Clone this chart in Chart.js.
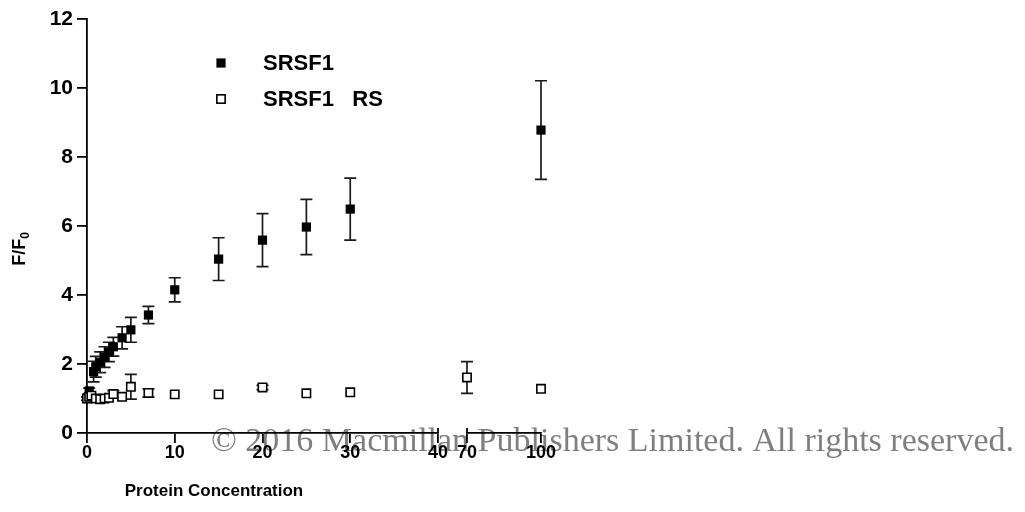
<!DOCTYPE html>
<html>
<head>
<meta charset="utf-8">
<script src="https://cdn.jsdelivr.net/npm/chart.js@4.4.1/dist/chart.umd.min.js"></script>
<style>
  html, body { margin: 0; padding: 0; background: #ffffff; }
  #wrap { width: 1025px; height: 512px; position: relative; }
</style>
</head>
<body>
<div id="wrap"><canvas id="chart" width="1025" height="512"></canvas></div>
<script>
// Protein titration: F/F0 against protein concentration
const concSRSF1  = [0, 0.25, 0.75, 1, 1.5, 2, 2.5, 3, 4, 5, 7, 10, 15, 20, 25, 30, 100];
const ratioSRSF1 = [1.0, 1.22, 1.78, 1.92, 2.05, 2.2, 2.35, 2.5, 2.76, 2.99, 3.42, 4.15, 5.04, 5.59, 5.97, 6.49, 8.78];
const errSRSF1   = [0.05, 0.08, 0.3, 0.3, 0.3, 0.3, 0.28, 0.27, 0.32, 0.36, 0.25, 0.35, 0.62, 0.77, 0.8, 0.9, 1.43];

const concRS  = [0, 0.25, 0.5, 1, 1.5, 2, 2.5, 3, 4, 5, 7, 10, 15, 20, 25, 30, 70, 100];
const ratioRS = [1.0, 1.05, 1.08, 1.0, 0.98, 1.0, 1.02, 1.13, 1.05, 1.34, 1.16, 1.12, 1.12, 1.32, 1.15, 1.18, 1.61, 1.28];
const errRS   = [0, 0, 0, 0.03, 0, 0.04, 0, 0.1, 0, 0.36, 0.12, 0, 0, 0.06, 0, 0, 0.46, 0];

const seriesNames = ['SRSF1', 'SRSF1   RS'];
const lowTicks  = [0, 10, 20, 30, 40];
const highTicks = [70, 100];
const yTicks    = [0, 2, 4, 6, 8, 10, 12];
const lowRange  = [0, 40];
const highRange = [70, 100];
const yRange    = [0, 12];

const AXIS_FONT = '"Liberation Sans", Arial, Helvetica, sans-serif';

// split a series into the part on the lower axis segment and the part on the upper one
function segment(xs, ys, es, lo, hi) {
  const pts = [], errs = [];
  xs.forEach((x, i) => {
    if (x >= lo && x <= hi) { pts.push({ x: x, y: ys[i] }); errs.push(es[i]); }
  });
  return { pts, errs };
}

const filledStyle = {
  pointStyle: 'rect', pointRadius: 6.5, pointHoverRadius: 6.5,
  backgroundColor: '#000000', borderColor: '#000000', borderWidth: 0
};
const openStyle = {
  pointStyle: 'rect', pointRadius: 5.9, pointHoverRadius: 5.9,
  backgroundColor: '#ffffff', borderColor: '#000000', borderWidth: 1.6
};

function makeSet(label, xs, ys, es, range, axisId, style) {
  const s = segment(xs, ys, es, range[0], range[1]);
  return Object.assign({
    label: label, data: s.pts, errorBars: s.errs,
    xAxisID: axisId, yAxisID: 'y', showLine: false, clip: false
  }, style);
}

const datasets = [
  makeSet(seriesNames[1], concRS, ratioRS, errRS, lowRange, 'xLow', openStyle),
  makeSet(seriesNames[1], concRS, ratioRS, errRS, highRange, 'xHigh', openStyle),
  makeSet(seriesNames[0], concSRSF1, ratioSRSF1, errSRSF1, lowRange, 'xLow', filledStyle),
  makeSet(seriesNames[0], concSRSF1, ratioSRSF1, errSRSF1, highRange, 'xHigh', filledStyle)
];

// vertical error bars with caps, drawn under the markers
const errorBarPlugin = {
  id: 'errorBars',
  beforeDatasetsDraw(chart) {
    const ctx = chart.ctx;
    const yScale = chart.scales.y;
    ctx.save();
    ctx.strokeStyle = '#1a1a1a';
    ctx.lineWidth = 1.7;
    chart.data.datasets.forEach((ds, di) => {
      const meta = chart.getDatasetMeta(di);
      meta.data.forEach((pt, j) => {
        const e = ds.errorBars[j];
        if (!e) return;
        const v = ds.data[j].y;
        const top = yScale.getPixelForValue(v + e);
        const bot = yScale.getPixelForValue(v - e);
        const cap = 6;
        ctx.beginPath();
        ctx.moveTo(pt.x, top); ctx.lineTo(pt.x, bot);
        ctx.moveTo(pt.x - cap, top); ctx.lineTo(pt.x + cap, top);
        ctx.moveTo(pt.x - cap, bot); ctx.lineTo(pt.x + cap, bot);
        ctx.stroke();
      });
    });
    ctx.restore();
  }
};

// notice line behind the axes
const noticePlugin = {
  id: 'notice',
  beforeDraw(chart) {
    const ctx = chart.ctx;
    ctx.save();
    ctx.fillStyle = '#7f7f7f';
    ctx.font = '34px "Liberation Serif", "Times New Roman", serif';
    ctx.textAlign = 'left';
    ctx.textBaseline = 'alphabetic';
    ctx.fillText('\u00A9 2016 Macmillan Publishers Limited. All rights reserved.', 211, 451);
    ctx.restore();
  }
};

// axis titles, in-plot legend and the break marks on the x axis
const decorPlugin = {
  id: 'decor',
  afterDraw(chart) {
    const ctx = chart.ctx;
    const area = chart.chartArea;
    const xLow = chart.scales.xLow, xHigh = chart.scales.xHigh;
    ctx.save();

    // break marks at the inner ends of the two segments
    ctx.strokeStyle = '#000';
    ctx.lineWidth = 1.8;
    ctx.beginPath();
    [xLow.getPixelForValue(lowRange[1]), xHigh.getPixelForValue(highRange[0])].forEach(px => {
      ctx.moveTo(px, area.bottom - 5); ctx.lineTo(px, area.bottom);
    });
    ctx.stroke();

    // x title
    ctx.fillStyle = '#000';
    ctx.font = 'bold 17px ' + AXIS_FONT;
    ctx.textAlign = 'center';
    ctx.textBaseline = 'middle';
    ctx.fillText('Protein Concentration', 214, 491);

    // y title F/F0 with subscript
    ctx.save();
    ctx.translate(18, 249);
    ctx.rotate(-Math.PI / 2);
    const main = 'F/F';
    ctx.font = 'bold 12px ' + AXIS_FONT;
    const subW = ctx.measureText('0').width;
    ctx.font = 'bold 18px ' + AXIS_FONT;
    const mainW = ctx.measureText(main).width;
    const start = -(mainW + subW) / 2;
    ctx.textAlign = 'left';
    ctx.textBaseline = 'alphabetic';
    ctx.fillText(main, start, 7);
    ctx.font = 'bold 12px ' + AXIS_FONT;
    ctx.fillText('0', start + mainW, 11);
    ctx.restore();

    // legend
    const rows = [
      { name: seriesNames[0], style: filledStyle, y: 63 },
      { name: seriesNames[1], style: openStyle, y: 99 }
    ];
    rows.forEach(r => {
      const half = r.style.pointRadius * Math.SQRT1_2;
      ctx.fillStyle = r.style.backgroundColor;
      ctx.fillRect(221 - half, r.y - half, half * 2, half * 2);
      if (r.style.borderWidth) {
        ctx.strokeStyle = r.style.borderColor;
        ctx.lineWidth = r.style.borderWidth;
        ctx.strokeRect(221 - half, r.y - half, half * 2, half * 2);
      }
      ctx.fillStyle = '#000';
      ctx.font = 'bold 22px ' + AXIS_FONT;
      ctx.textAlign = 'left';
      ctx.textBaseline = 'middle';
      ctx.fillText(r.name, 263, r.y + 1);
    });
    ctx.restore();
  }
};

const tickFont = { family: AXIS_FONT, size: 18, weight: 'bold' };

function xAxis(range, ticks, weight) {
  return {
    type: 'linear', position: 'bottom', stack: 'conc', stackWeight: weight,
    min: range[0], max: range[1],
    afterBuildTicks: s => { s.ticks = ticks.map(v => ({ value: v })); },
    afterFit: s => { s.height = 79; },
    grid: { drawOnChartArea: false, drawTicks: true, tickLength: 10, color: '#000', lineWidth: 1.8 },
    border: { display: true, color: '#000', width: 1.8 },
    ticks: { color: '#000', font: tickFont, padding: -1, maxRotation: 0, autoSkip: false }
  };
}

new Chart(document.getElementById('chart'), {
  type: 'scatter',
  data: { datasets },
  options: {
    responsive: false,
    animation: false,
    devicePixelRatio: 1,
    layout: { padding: { top: 19, left: 0, right: 484, bottom: 0 } },
    plugins: { legend: { display: false }, tooltip: { enabled: false } },
    scales: {
      xLow: xAxis(lowRange, lowTicks, 351),
      xGap: {
        type: 'linear', position: 'bottom', stack: 'conc', stackWeight: 29,
        afterFit: s => { s.height = 79; },
        grid: { display: false }, border: { display: false }, ticks: { display: false }
      },
      xHigh: xAxis(highRange, highTicks, 74),
      y: {
        type: 'linear', position: 'left', min: yRange[0], max: yRange[1],
        afterBuildTicks: s => { s.ticks = yTicks.map(v => ({ value: v })); },
        afterFit: s => { s.width = 87; },
        grid: { drawOnChartArea: false, drawTicks: true, tickLength: 10, color: '#000', lineWidth: 1.8 },
        border: { display: true, color: '#000', width: 1.8 },
        ticks: { color: '#000', font: { family: AXIS_FONT, size: 21, weight: 'bold' }, padding: 4 }
      }
    }
  },
  plugins: [noticePlugin, errorBarPlugin, decorPlugin]
});
</script>
</body>
</html>
